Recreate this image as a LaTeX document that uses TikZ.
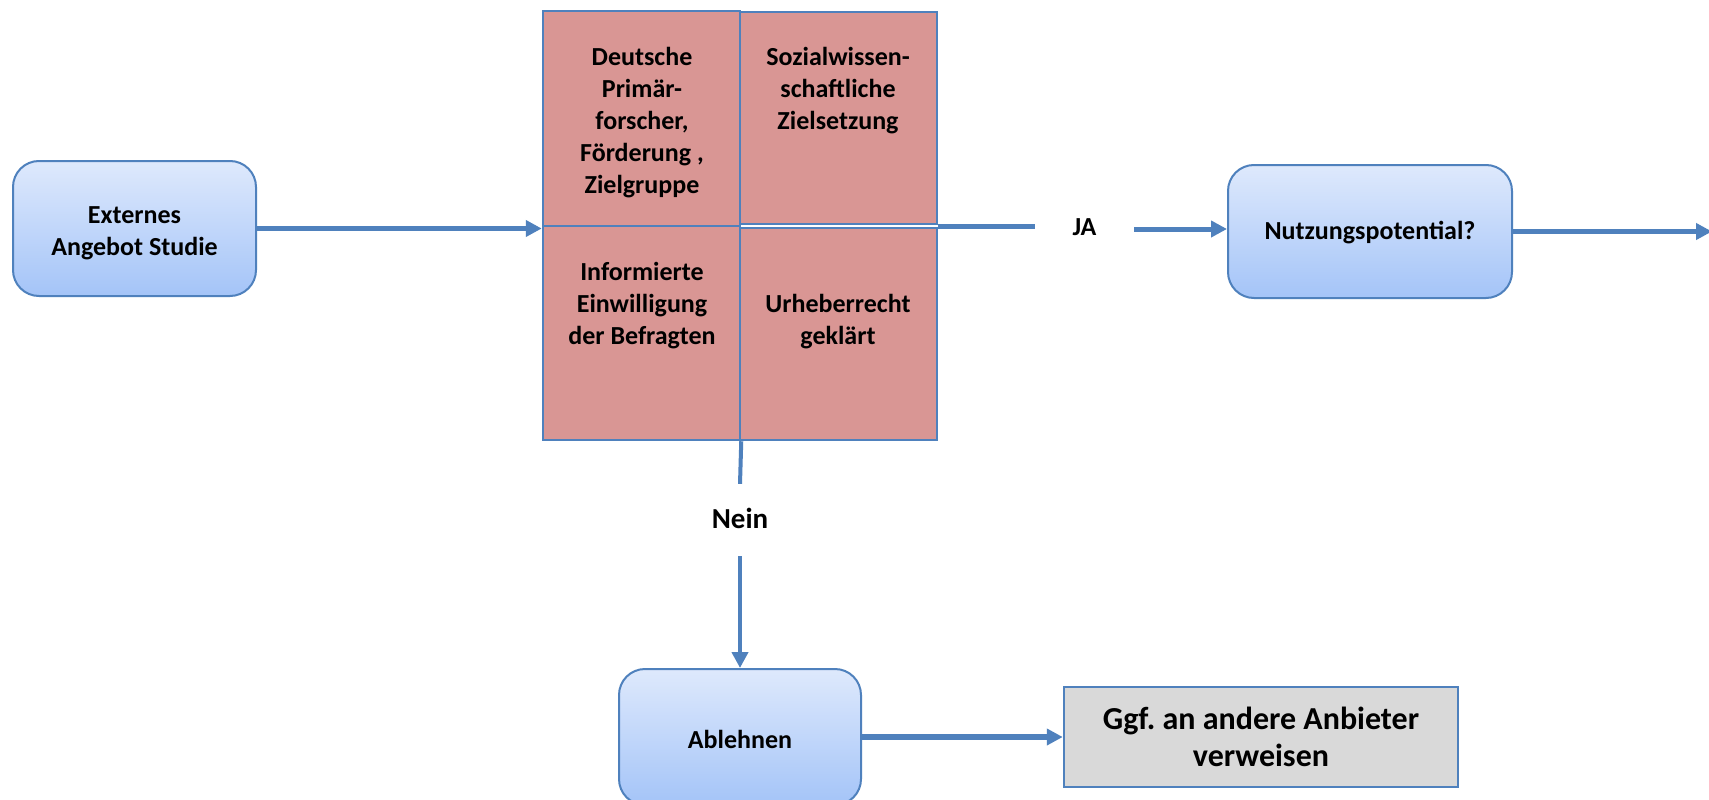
\documentclass[tikz,border=0pt]{standalone}
\usepackage{fontspec}
\setmainfont{Carlito}
\usetikzlibrary{arrows.meta}
\definecolor{bord}{RGB}{79,129,189}
\definecolor{pinkf}{RGB}{217,150,148}
\definecolor{gtop}{RGB}{222,233,252}
\definecolor{gbot}{RGB}{164,196,248}
\definecolor{grayf}{RGB}{217,217,217}
\frenchspacing
\begin{document}
\begin{tikzpicture}[x=1pt,y=-1pt,
  every node/.style={font=\fontsize{26}{32}\selectfont\bfseries, inner sep=0pt, align=center},
  cell/.style={draw=bord, line width=2.5pt, fill=pinkf, minimum width=197pt},
  rbox/.style={draw=bord, line width=2pt, rounded corners=26pt, top color=gtop, bottom color=gbot},
  gbox/.style={draw=bord, line width=2.5pt, fill=grayf, minimum width=394pt, minimum height=100pt,
     font=\fontsize{32}{37}\selectfont\bfseries},
  conn/.style={draw=bord, line width=5pt},
  arr/.style={conn, -{Triangle[length=16pt,width=16pt]}},
]
\useasboundingbox (0,0) rectangle (1709,800);
\fill[white] (0,0) rectangle (1709,800);

% nodes
\node[rbox, minimum width=243pt, minimum height=135pt] (ext) at (134.5,228.5) {};
\node (exttext) at (134.5,233) {Externes\\Angebot Studie};

\node[cell, minimum height=215pt] (tl) at (641.5,118.5) {};
\node[cell, minimum height=214pt] (bl) at (641.5,333) {};
\node[cell, minimum height=212pt] (tr) at (838.5,118) {};
\node[cell, minimum height=212pt] (br) at (838.5,334) {};
\node (tltext) at (642,123) {Deutsche\\Primär-\\forscher,\\Förderung ,\\Zielgruppe};
\node (trtext) at (838,91) {Sozialwissen-\\schaftliche\\Zielsetzung};
\node (bltext) at (642,306) {Informierte\\Einwilligung\\der Befragten};
\node (brtext) at (838,322) {Urheberrecht\\geklärt};

\node[minimum width=99pt, minimum height=40pt] (ja) at (1084.5,229) {\raisebox{4pt}{JA}};

\node[rbox, minimum width=284pt, minimum height=133pt] (nut) at (1370,231.5) {};
\node (nuttext) at (1370,233) {Nutzungspotential?};
\coordinate (rightend) at (1712,231.5);

\node[minimum height=72pt, font=\fontsize{29}{34}\selectfont\bfseries] (nein) at (740,520) {\raisebox{3pt}{Nein}};

\node[rbox, minimum width=242pt, minimum height=136pt] (abl) at (740,737) {};
\node (abltext) at (740,739) {Ablehnen};

\node[gbox] (ggf) at (1261,737) {\raisebox{-4pt}[\height][\depth]{\begin{tabular}{@{}c@{}}Ggf. an andere Anbieter\\verweisen\end{tabular}}};

% connectors
\draw[arr] (ext.east) -- (ext.east -| tl.south west);
\draw[conn] (br.north east) -- (br.north east -| ja.west);
\draw[arr] (ja.east) -- (ja.east -| nut.west);
\draw[arr] (nut.east) -- (rightend);
\draw[conn, line width=4pt] (bl.south east) -- (nein.north);
\draw[arr, line width=4pt] (nein.south) -- (abl.north);
\draw[arr, line width=6pt] (abl.east) -- (ggf.west);
\end{tikzpicture}
\end{document}
